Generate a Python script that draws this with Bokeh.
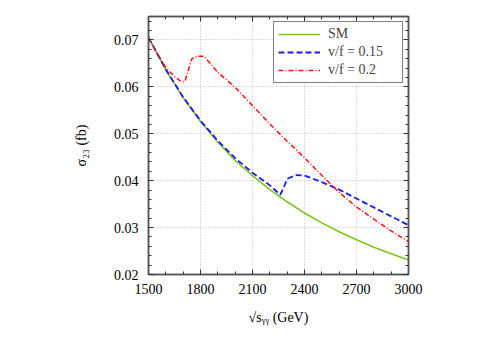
from bokeh.plotting import figure
from bokeh.models import LinearAxis, Legend, LegendItem, FixedTicker, Range1d
from bokeh.embed import file_html
from bokeh.resources import INLINE

# data
sm_x = [1500, 1600, 1700, 1800, 1900, 2000, 2100, 2200, 2300, 2400, 2500, 2600, 2700, 2800, 2900, 3000]
sm_y = [0.0705, 0.0636, 0.0577, 0.0526, 0.0482, 0.0443, 0.0411, 0.0381, 0.0355, 0.0331, 0.0310, 0.0291, 0.0274, 0.0258, 0.0244, 0.0231]

v15_x = [1500, 1600, 1700, 1800, 1900, 2000, 2100, 2200, 2260, 2280, 2300, 2350, 2400, 2500, 2600, 2700, 2800, 2900, 3000]
v15_y = [0.0705, 0.0637, 0.0578, 0.0528, 0.0485, 0.0448, 0.0417, 0.0390, 0.0370, 0.0385, 0.0404, 0.0412, 0.0411, 0.0397, 0.0381, 0.0362, 0.0343, 0.0324, 0.0305]

v20_x = [1500, 1550, 1600, 1650, 1690, 1710, 1750, 1780, 1820, 1900, 2000, 2100, 2200, 2300, 2400, 2500, 2600, 2700, 2800, 2900, 3000]
v20_y = [0.0705, 0.0672, 0.0641, 0.0622, 0.0611, 0.0612, 0.0660, 0.0665, 0.0665, 0.0631, 0.0599, 0.0560, 0.0521, 0.0484, 0.0449, 0.0411, 0.0375, 0.0344, 0.0318, 0.0293, 0.0270]

x_ticks = [1500, 1800, 2100, 2400, 2700, 3000]
y_ticks = [0.02, 0.03, 0.04, 0.05, 0.06, 0.07]
x_minor = [1500 + 100 * i for i in range(16)]
y_minor = [round(0.02 + 0.002 * i, 4) for i in range(28)]

FONT = "Liberation Serif"

p = figure(width=480, height=333, output_backend="svg", toolbar_location=None,
           x_range=Range1d(1500, 3000), y_range=Range1d(0.02, 0.075),
           min_border_left=148, min_border_right=72, min_border_top=16, min_border_bottom=59)

p.outline_line_color = "#555555"
p.outline_line_width = 1.5
p.background_fill_color = "white"
p.border_fill_color = "white"

def style_axis(ax):
    ax.major_tick_in = 5
    ax.major_tick_out = 0
    ax.minor_tick_in = 3
    ax.minor_tick_out = 0
    ax.axis_line_color = "#555555"
    ax.axis_line_width = 1.5
    ax.major_tick_line_color = "#333333"
    ax.minor_tick_line_color = "#333333"
    ax.major_label_text_font = FONT
    ax.major_label_text_font_size = "14px"
    ax.major_label_text_color = "black"
    ax.axis_label_text_font = FONT
    ax.axis_label_text_font_size = "14px"
    ax.axis_label_text_font_style = "normal"
    ax.axis_label_text_color = "black"

p.xaxis.ticker = FixedTicker(ticks=x_ticks, minor_ticks=x_minor)
p.yaxis.ticker = FixedTicker(ticks=y_ticks, minor_ticks=y_minor)
p.yaxis.formatter.use_scientific = False
style_axis(p.xaxis[0])
style_axis(p.yaxis[0])
p.xaxis.axis_label = "√sᵧᵧ (GeV)"
p.yaxis.axis_label = "σ₂₃ (fb)"
p.xaxis.major_label_standoff = 9
p.yaxis.major_label_standoff = 10
p.xaxis.axis_label_standoff = 13
p.yaxis.axis_label_standoff = 22

ax_r = LinearAxis(ticker=FixedTicker(ticks=y_ticks, minor_ticks=y_minor),
                  major_label_overrides={t: "" for t in y_ticks})
style_axis(ax_r)
p.add_layout(ax_r, "right")
ax_t = LinearAxis(ticker=FixedTicker(ticks=x_ticks, minor_ticks=x_minor),
                  major_label_overrides={t: "" for t in x_ticks})
style_axis(ax_t)
p.add_layout(ax_t, "above")

p.grid.grid_line_color = "#bbbbbb"
p.grid.grid_line_dash = "1 2"
p.grid.grid_line_width = 1

r_sm = p.line(sm_x, sm_y, line_color="#7fc31c", line_width=1.6)
r_15 = p.line(v15_x, v15_y, line_color="#1a1aff", line_width=1.8, line_dash="6 3")
r_20 = p.line(v20_x, v20_y, line_color="#ff1010", line_width=1.5, line_dash="5 2 1 2")

legend = Legend(items=[LegendItem(label="SM", renderers=[r_sm]),
                       LegendItem(label="v/f = 0.15", renderers=[r_15]),
                       LegendItem(label="v/f = 0.2", renderers=[r_20])],
                location="top_right")
legend.margin = 5
legend.padding = 4
legend.spacing = 2
legend.glyph_width = 42
legend.glyph_height = 14
legend.label_height = 14
legend.label_width = 70
legend.label_standoff = 8
legend.label_text_font = FONT
legend.label_text_font_size = "14px"
legend.border_line_color = "black"
legend.border_line_width = 1.5
legend.background_fill_alpha = 1
p.add_layout(legend, "center")

open("out.html", "w").write(file_html(p, INLINE))
